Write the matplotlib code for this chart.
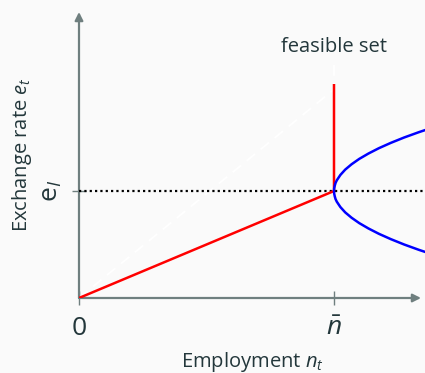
import matplotlib.pyplot as plt

plt.rcParams['font.family'] = ['Open Sans', 'DejaVu Sans']
plt.rcParams['mathtext.fontset'] = 'custom'
plt.rcParams['mathtext.rm'] = 'Open Sans'
plt.rcParams['mathtext.it'] = 'Open Sans:italic'

BG = '#fafafa'
TEXT = '#23373b'
AXIS = '#6f7f7f'

# model quantities (n_bar = 1, e_I = 1)
n_bar = 1.0
e_I = 1.0

# red branch: ray from origin to (n_bar, e_I), then vertical up to e = 2
red_n = [0.0, 1.0, 1.0]
red_e = [0.0, 1.0, 2.0]

# white dashed guide line
guide_n = [0.0, 1.0, 1.0]
guide_e = [0.0, 1.95, 2.22]

# blue curve, sideways parabola with vertex at (n_bar, e_I)
blue_e = [0.40, 0.45, 0.50, 0.55, 0.60, 0.65, 0.70, 0.75, 0.80, 0.85,
          0.90, 0.925, 0.95, 0.975, 1.00, 1.025, 1.05, 1.075, 1.10,
          1.15, 1.20, 1.25, 1.30, 1.35, 1.40, 1.45, 1.50, 1.55, 1.60]
blue_n = [1.396, 1.333, 1.275, 1.223, 1.176, 1.135, 1.099, 1.069, 1.044, 1.025,
          1.011, 1.006, 1.003, 1.0007, 1.000, 1.0007, 1.003, 1.006, 1.011,
          1.025, 1.044, 1.069, 1.099, 1.135, 1.176, 1.223, 1.275, 1.333, 1.396]

fig = plt.figure(figsize=(4.25, 3.73), dpi=100, facecolor=BG)
ax = fig.add_axes([79 / 425, 75 / 373, 346 / 425, 298 / 373])
ax.set_facecolor(BG)
ax.set_xlim(0, 346 / 255)
ax.set_ylim(0, 298 / 107)
for s in ax.spines.values():
    s.set_visible(False)

# axes with arrow heads
arrow = dict(arrowstyle='-|>', color=AXIS, lw=1.6, mutation_scale=12,
             shrinkA=0, shrinkB=0)
ax.annotate('', xy=(342 / 255, 0), xytext=(0, 0), annotation_clip=False,
            arrowprops=arrow)
ax.annotate('', xy=(0, 286 / 107), xytext=(0, 0), annotation_clip=False,
            arrowprops=arrow)

ax.plot(guide_n, guide_e, color='white', lw=1.3, ls=(0, (6, 4)), zorder=2)
ax.axhline(e_I, color='black', lw=1.6, ls=(0, (1, 1.4)), zorder=3)
ax.plot(red_n, red_e, color='red', lw=1.8, zorder=4, solid_capstyle='butt')
ax.plot(blue_n, blue_e, color='blue', lw=1.8, zorder=4)

ax.set_xticks([0, n_bar], ['0', r'$\bar{n}$'])
ax.set_yticks([e_I], [r'$\mathrm{e}_I$'])
ax.tick_params(axis='x', direction='inout', length=10, width=1, color=AXIS,
               labelsize=19, labelcolor=TEXT, pad=8)
ax.tick_params(axis='y', direction='inout', length=10, width=1, color=AXIS,
               labelsize=19, labelcolor=TEXT, pad=6)
for lab in ax.get_yticklabels():
    lab.set_rotation(90)
    lab.set_va('center')

fig.text(252 / 425, 1 - 362 / 373, r'Employment $n_t$', color=TEXT, fontsize=14.5,
         ha='center', va='center')
fig.text(22 / 425, 1 - 155 / 373, r'Exchange rate $e_t$', color=TEXT, fontsize=14.5,
         ha='center', va='center', rotation=90)
ax.text(n_bar, 2.345, 'feasible set', color=TEXT, fontsize=14.5, ha='center', va='center')

fig.savefig('out.png', dpi=100, facecolor=BG)
